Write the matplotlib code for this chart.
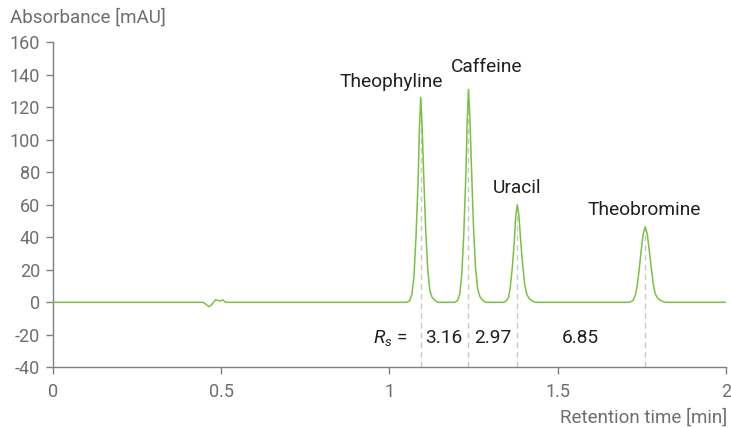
import matplotlib
matplotlib.use('Agg')
import matplotlib.pyplot as plt

# Chromatogram trace (time in min, absorbance in mAU)
baseline_t = [0.0, 0.447]
baseline_y = [0.0, 0.0]

disturb_t = [0.447, 0.457, 0.464, 0.472, 0.478, 0.484, 0.490, 0.497, 0.505, 0.510, 0.514]
disturb_y = [0.0, -1.5, -2.7, -1.5, 0.2, 1.6, 1.2, 0.8, 1.5, 0.6, 0.0]

theophyline_t = [0.514, 1.052, 1.0605, 1.067, 1.073, 1.079, 1.0855, 1.089, 1.093,
                 1.097, 1.102, 1.108, 1.114, 1.1205, 1.127, 1.134, 1.143]
theophyline_y = [0.0, 0.0, 1.0, 5.0, 16.0, 40.0, 75.0, 105.0, 126.0,
                 110.0, 78.0, 44.0, 20.0, 7.0, 3.0, 1.5, 0.0]

caffeine_t = [1.194, 1.2025, 1.209, 1.215, 1.221, 1.2275, 1.231, 1.235,
              1.239, 1.244, 1.250, 1.256, 1.2625, 1.269, 1.276, 1.285]
caffeine_y = [0.0, 1.0, 5.0, 17.0, 42.0, 80.0, 110.0, 131.0,
              115.0, 82.0, 46.0, 21.0, 8.0, 3.5, 1.5, 0.0]

uracil_t = [1.340, 1.348, 1.354, 1.359, 1.365, 1.371, 1.375, 1.380,
            1.385, 1.390, 1.396, 1.402, 1.408, 1.4145, 1.4225, 1.432]
uracil_y = [0.0, 1.0, 3.0, 9.0, 21.0, 37.0, 52.0, 60.0,
            53.0, 38.0, 23.0, 11.0, 5.0, 2.5, 1.0, 0.0]

theobromine_t = [1.713, 1.723, 1.730, 1.736, 1.742, 1.748, 1.754, 1.760,
                 1.766, 1.772, 1.778, 1.784, 1.790, 1.797, 1.807, 1.819, 2.0]
theobromine_y = [0.0, 1.0, 4.0, 10.0, 20.0, 32.0, 42.0, 46.5,
                 42.0, 32.0, 21.0, 11.0, 5.0, 2.5, 1.0, 0.0, 0.0]

peak_names = ['Theophyline', 'Caffeine', 'Uracil', 'Theobromine']
peak_times = [1.093, 1.235, 1.380, 1.760]
peak_heights = [126.0, 131.0, 60.0, 46.5]

rs_values = ['3.16', '2.97', '6.85']

x_ticks = [0, 0.5, 1, 1.5, 2]
x_tick_labels = ['0', '0.5', '1', '1.5', '2']
y_ticks = [-40, -20, 0, 20, 40, 60, 80, 100, 120, 140, 160]

# label positions (layout only)
label_pos = [(1.005, 135.5), (1.290, 145.0), (1.379, 70.5), (1.756, 57.0)]
rs_pos = [1.162, 1.308, 1.566]

plt.rcParams['font.family'] = ['Roboto', 'DejaVu Sans']
plt.rcParams['axes.unicode_minus'] = False
plt.rcParams['mathtext.fontset'] = 'custom'
plt.rcParams['mathtext.it'] = 'Roboto:italic'
plt.rcParams['mathtext.rm'] = 'Roboto'

green = '#7ac143'
axis_gray = '#808080'
text_gray = '#6d6e71'
dark = '#231f20'

fig = plt.figure(figsize=(7.31, 4.28), dpi=100)
ax = fig.add_axes([0.0721, 0.1418, 0.9211, 0.7594])

t = baseline_t + disturb_t + theophyline_t + caffeine_t + uracil_t + theobromine_t
y = baseline_y + disturb_y + theophyline_y + caffeine_y + uracil_y + theobromine_y
ax.plot(t, y, color=green, lw=1.1, zorder=3)

# dashed markers from apex down to the axis
for pt, ph in zip(peak_times, peak_heights):
    ax.plot([pt, pt], [-40, ph], color='#c8c8c8', lw=1.0, ls=(0, (4, 3)), zorder=2)

for name, (lx, ly) in zip(peak_names, label_pos):
    ax.text(lx, ly, name, ha='center', va='center', fontsize=13.8, color=dark)

ax.text(1.055, -22, r'$R_s$ =', ha='right', va='center', fontsize=13.8, color=dark)
for val, rx in zip(rs_values, rs_pos):
    ax.text(rx, -22, val, ha='center', va='center', fontsize=13.8, color=dark)

ax.set_xlim(0, 2)
ax.set_ylim(-40, 160)
ax.set_xticks(x_ticks)
ax.set_xticklabels(x_tick_labels)
ax.set_yticks(y_ticks)

for s in ['top', 'right']:
    ax.spines[s].set_visible(False)
for s in ['left', 'bottom']:
    ax.spines[s].set_color(axis_gray)
    ax.spines[s].set_linewidth(1.0)
ax.tick_params(colors=axis_gray, labelcolor=text_gray, labelsize=13,
               length=5, width=1.0, direction='out')
ax.tick_params(axis='x', pad=6)
ax.tick_params(axis='y', pad=4)

fig.text(10 / 731, 1 - 18 / 428, 'Absorbance [mAU]', ha='left', va='center',
         fontsize=13.5, color=text_gray)
fig.text(727 / 731, 1 - 418 / 428, 'Retention time [min]', ha='right', va='center',
         fontsize=13.5, color=text_gray)

fig.savefig('out.png', dpi=100)
